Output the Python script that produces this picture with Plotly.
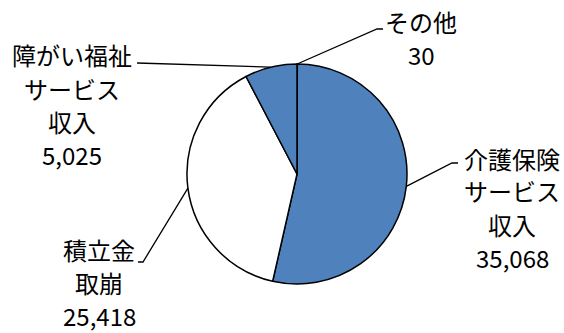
import math
import plotly.graph_objects as go

# ---- data ----
categories = ["その他", "介護保険サービス収入", "積立金取崩", "障がい福祉サービス収入"]
values = [30, 35068, 25418, 5025]
label_lines = [
    ["その他", "30"],
    ["介護保険", "サービス", "収入", "35,068"],
    ["積立金", "取崩", "25,418"],
    ["障がい福祉", "サービス", "収入", "5,025"],
]

# ---- styling / layout constants ----
W, H = 564, 333
CX, CY, R = 297, 174, 110
colors = ["#4F81BD", "#4F81BD", "#FFFFFF", "#4F81BD"]
FONT = "Noto Sans CJK JP"
FS = 24
PITCH = 33
# label block centre x, first line centre y
label_pos = [(421, 22), (512, 158), (99, 249), (72, 55)]
# leader line: elbow point and end point (pixels)
leader_pts = [
    [(377, 29), (383, 29)],
    [(452, 163), (458, 163)],
    [(143, 262), (138, 262)],
    [(137, 63), (137, 63)],
]


def px(x, y):
    return x / W, 1 - y / H


fig = go.Figure()
fig.add_trace(go.Pie(
    labels=categories, values=values, sort=False, direction="clockwise",
    rotation=0, textinfo="none", hoverinfo="label+value",
    marker=dict(colors=colors, line=dict(color="black", width=1.5)),
    domain=dict(x=[(CX - R) / W, (CX + R) / W], y=[(H - CY - R) / H, (H - CY + R) / H]),
    showlegend=False,
))

total = sum(values)
cum = 0
shapes = []
annotations = []
for i, v in enumerate(values):
    mid = (cum + v / 2) / total * 2 * math.pi
    cum += v
    sx = CX + R * math.sin(mid)
    sy = CY - R * math.cos(mid)
    pts = [(sx, sy)] + leader_pts[i]
    path = "M " + " L ".join("%f,%f" % px(x, y) for x, y in pts)
    shapes.append(dict(type="path", path=path, xref="paper", yref="paper",
                       line=dict(color="black", width=1.3)))
    lx, ly = label_pos[i]
    for j, t in enumerate(label_lines[i]):
        ax, ay = px(lx, ly + j * PITCH)
        annotations.append(dict(text=t, x=ax, y=ay, xref="paper", yref="paper",
                                xanchor="center", yanchor="middle", showarrow=False,
                                borderpad=0,
                                font=dict(family=FONT, size=FS, color="black")))

fig.update_layout(
    width=W, height=H, margin=dict(l=0, r=0, t=0, b=0),
    paper_bgcolor="white", plot_bgcolor="white",
    shapes=shapes, annotations=annotations,
)
fig.write_html("out.html")
